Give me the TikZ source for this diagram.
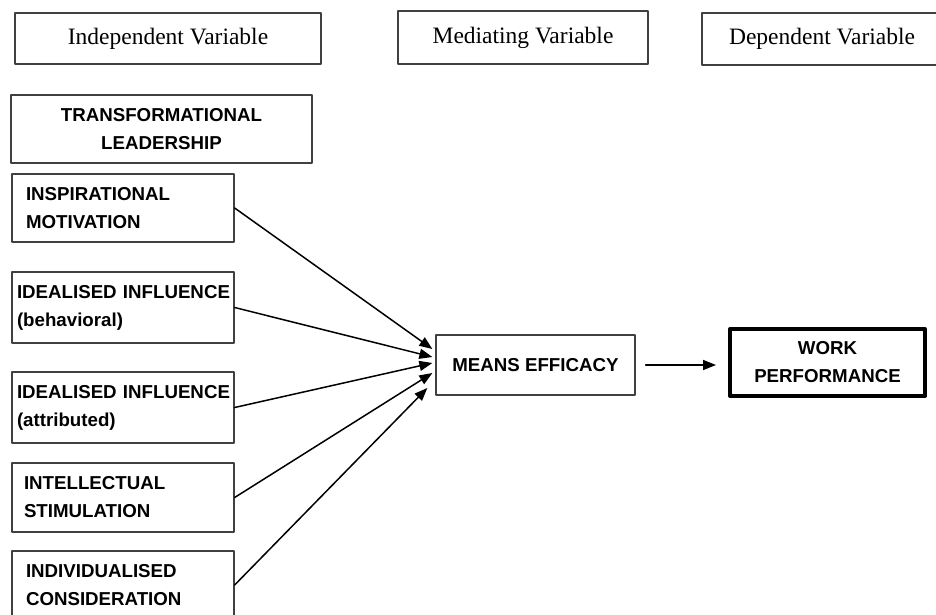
\documentclass[tikz,border=0pt]{standalone}
\usepackage{fontspec}
\setmainfont{Liberation Serif}
\newfontfamily\arialfont{Liberation Sans}
\usetikzlibrary{arrows.meta}

\begin{document}
\begin{tikzpicture}[line cap=round,line join=round,>={Triangle[length=13pt,width=10pt]},x=1pt,y=-1pt,
  varbox/.style={draw=black!75,line width=1.3pt,font=\fontsize{23.5}{26}\selectfont,minimum height=51pt},
  dimbox/.style={draw=black!75,line width=1.3pt,font=\arialfont\bfseries\fontsize{18.7}{28}\selectfont,minimum height=68pt,inner xsep=14pt,text width=194pt,align=left},
  link/.style={->,line width=1.5pt}]
\clip(0,0) rectangle (936,615);
% column headings
\node[varbox,minimum width=306pt] (iv) at (168,38.5) {Independent Variable};
\node[varbox,minimum width=250pt,minimum height=53pt] (mv) at (523,37.5) {Mediating Variable};
\node[varbox,minimum width=240pt,minimum height=52pt] (dv) at (822,39) {Dependent Variable};
% dimensions of transformational leadership
\node[dimbox,text width=277pt,inner xsep=12pt,align=center] (tl) at (161.5,129) {TRANSFORMATIONAL\\LEADERSHIP};
\node[dimbox] (insp) at (123,208) {INSPIRATIONAL\\MOTIVATION};
\node[dimbox,inner xsep=5pt,text width=212pt,minimum height=71pt] (beh) at (123,307.5) {\mbox{IDEALISED INFLUENCE}\\(behavioral)};
\node[dimbox,inner xsep=5pt,text width=212pt,minimum height=71pt] (att) at (123,407.5) {\mbox{IDEALISED INFLUENCE}\\(attributed)};
\node[dimbox,inner xsep=12pt,text width=198pt,minimum height=69pt] (intel) at (123,497.5) {INTELLECTUAL\\STIMULATION};
\node[dimbox] (indiv) at (123,585) {INDIVIDUALISED\\CONSIDERATION};
% mediator and outcome
\node[dimbox,minimum width=199pt,minimum height=60pt,text width=,align=center] (me) at (535.5,365) {MEANS EFFICACY};
\node[dimbox,line width=4pt,draw=black,minimum width=195pt,minimum height=67pt,text width=,align=center] (wp) at (827.5,362.5) {WORK\\PERFORMANCE};
% paths
\draw[link] (insp.east) -- ([xshift=-3pt,yshift=16pt]me.west);
\draw[link] (beh.east) -- ([xshift=-3pt,yshift=8pt]me.west);
\draw[link] (att.east) -- ([xshift=-3pt,yshift=2pt]me.west);
\draw[link] (intel.east) -- ([xshift=-3pt,yshift=-8pt]me.west);
\draw[link] (indiv.east) -- ([xshift=-8pt,yshift=-23pt]me.west);
\draw[link] ([xshift=10pt]me.east) -- ([xshift=-12pt]me.east -| wp.west);
\end{tikzpicture}
\end{document}
